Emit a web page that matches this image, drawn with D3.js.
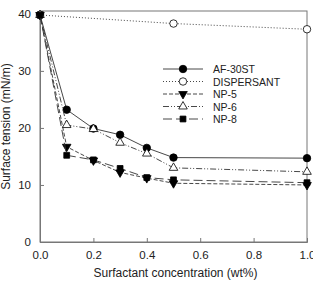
<!DOCTYPE html>
<meta charset="utf-8">
<script src="https://d3js.org/d3.v7.min.js"></script>
<style>
  body { margin: 0; background: #fff; }
  text { font-family: "Liberation Sans", Arial, sans-serif; fill: #222; }
</style>
<div id="chart"></div>
<script>

// concentrations (wt%)
var conc = [0, 0.1, 0.2, 0.3, 0.4, 0.5, 1.0];
var concDisp = [0, 0.5, 1.0];

// surface tension values (mN/m)
var af30st = [39.8, 23.2, 19.9, 18.8, 16.5, 14.8, 14.7];
var dispersant = [39.8, 38.3, 37.3];
var np5 = [39.8, 16.7, 14.3, 12.2, 11.2, 10.3, 10.0];
var np6 = [39.8, 20.5, 19.8, 17.4, 15.5, 13.0, 12.3];
var np8 = [39.8, 15.2, 14.4, 12.9, 11.3, 10.9, 10.4];

var xTicks = [0.0, 0.2, 0.4, 0.6, 0.8, 1.0];
var yTicks = [0, 10, 20, 30, 40];

var series = [
  {name: "AF-30ST", xs: conc, ys: af30st, marker: "circle", fill: "#000", dash: null},
  {name: "DISPERSANT", xs: concDisp, ys: dispersant, marker: "circle", fill: "#fff", dash: "1,2"},
  {name: "NP-5", xs: conc, ys: np5, marker: "triangleDown", fill: "#000", dash: "4,2"},
  {name: "NP-6", xs: conc, ys: np6, marker: "triangle", fill: "#fff", dash: "6,2,1,2,1,2"},
  {name: "NP-8", xs: conc, ys: np8, marker: "square", fill: "#000", dash: "9,4"}
];

var W = 313, H = 281;
var margin = {top: 11, right: 6, bottom: 39, left: 40};
var width = W - margin.left - margin.right,
    height = H - margin.top - margin.bottom;

var svg = d3.select("#chart").append("svg")
    .attr("width", W).attr("height", H)
  .append("g")
    .attr("transform", "translate(" + margin.left + "," + margin.top + ")");

var x = d3.scaleLinear().domain([0, 1.0]).range([0, width]);
var y = d3.scaleLinear().domain([0, 40.5]).range([height, 0]);

// frame
svg.append("rect")
  .attr("width", width).attr("height", height)
  .attr("fill", "none").attr("stroke", "#777").attr("stroke-width", 1);

// axes with inward ticks
var xAxis = svg.append("g")
  .attr("transform", "translate(0," + height + ")")
  .call(d3.axisBottom(x).tickValues(xTicks).tickFormat(d3.format(".1f")).tickSize(-4).tickPadding(9));
var yAxis = svg.append("g")
  .call(d3.axisLeft(y).tickValues(yTicks).tickSize(-4).tickPadding(9));
[xAxis, yAxis].forEach(function(a) {
  a.select(".domain").attr("stroke", "#777");
  a.selectAll(".tick line").attr("stroke", "#777");
  a.selectAll(".tick text").style("font-size", "11.5px").attr("fill", "#222");
});

// axis labels
svg.append("text")
  .attr("x", width / 2 + 2).attr("y", height + 35)
  .attr("text-anchor", "middle")
  .style("font-size", "12px")
  .text("Surfactant concentration (wt%)");
svg.append("text")
  .attr("transform", "translate(-30," + (height / 2) + ") rotate(-90)")
  .attr("text-anchor", "middle")
  .style("font-size", "12px")
  .text("Surface tension (mN/m)");

var symbols = {
  circle: d3.symbol().type(d3.symbolCircle).size(44),
  triangle: d3.symbol().type(d3.symbolTriangle).size(32),
  triangleDown: d3.symbol().type(d3.symbolTriangle).size(32),
  square: d3.symbol().type(d3.symbolSquare).size(34)
};

function drawMarker(g, s, px, py) {
  g.append("path")
    .attr("d", symbols[s.marker]())
    .attr("transform", "translate(" + px + "," + py + ")" + (s.marker === "triangleDown" ? " rotate(180)" : ""))
    .attr("fill", s.fill)
    .attr("stroke", "#000")
    .attr("stroke-width", 0.8);
}

var line = d3.line()
  .x(function(d) { return x(d[0]); })
  .y(function(d) { return y(d[1]); });

series.forEach(function(s) {
  var pts = s.xs.map(function(v, i) { return [v, s.ys[i]]; });
  svg.append("path")
    .datum(pts)
    .attr("d", line)
    .attr("fill", "none")
    .attr("stroke", "#333")
    .attr("stroke-width", 0.9)
    .attr("stroke-dasharray", s.dash);
  var g = svg.append("g");
  pts.forEach(function(p) { drawMarker(g, s, x(p[0]), y(p[1])); });
});

// legend
var legend = svg.append("g").attr("transform", "translate(123,58)");
series.forEach(function(s, i) {
  var g = legend.append("g").attr("transform", "translate(0," + (i * 12.5) + ")");
  g.append("line")
    .attr("x1", 0).attr("x2", 40)
    .attr("stroke", "#333").attr("stroke-width", 0.9)
    .attr("stroke-dasharray", s.dash);
  drawMarker(g, s, 20, 0);
  g.append("text")
    .attr("x", 50).attr("y", 4)
    .style("font-size", "10.5px")
    .text(s.name);
});

</script>
